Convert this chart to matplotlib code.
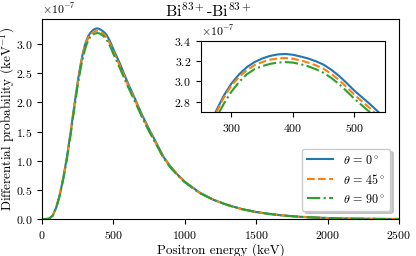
#!/usr/bin/env python

# Positron energy spectrum for Bi83+ - Bi83+ at three emission angles

import matplotlib
matplotlib.use('Agg')
import matplotlib.pyplot as plt

plt.rcParams['font.family'] = 'serif'
plt.rcParams['font.serif'] = ['cmr10', 'DejaVu Serif']
plt.rcParams['mathtext.fontset'] = 'cm'
plt.rcParams['axes.formatter.use_mathtext'] = True
plt.rcParams['axes.unicode_minus'] = True

# Data (probability in units of 1e-7 keV^-1)
energy = [0, 25, 50, 75, 100, 125, 150, 175, 200, 225, 250, 262.5, 275,
          287.5, 300, 312.5, 325, 337.5, 350, 362.5, 375, 387.5, 400, 412.5,
          425, 437.5, 450, 462.5, 475, 487.5, 500, 512.5, 525, 537.5, 550,
          600, 650, 700, 750, 800, 850, 900, 950, 1000, 1100, 1200, 1300,
          1400, 1500, 1600, 1700, 1800, 1900, 2000, 2100, 2200, 2300, 2400,
          2500]
prob_0 = [0.0, 0.0, 0.005, 0.06, 0.20, 0.42, 0.72, 1.07, 1.48, 1.93, 2.35,
          2.54, 2.71, 2.86, 2.98, 3.07, 3.14, 3.19, 3.225, 3.25, 3.265,
          3.27, 3.262, 3.245, 3.225, 3.198, 3.165, 3.115, 3.055, 2.985,
          2.91, 2.845, 2.78, 2.71, 2.64, 2.34, 2.07, 1.79, 1.54, 1.31, 1.07,
          0.90, 0.76, 0.64, 0.46, 0.33, 0.24, 0.17, 0.12, 0.085, 0.058,
          0.039, 0.026, 0.017, 0.010, 0.006, 0.003, 0.001, 0.0]
prob_45 = [0.0, 0.0, 0.005, 0.06, 0.20, 0.42, 0.715, 1.06, 1.47, 1.92, 2.34,
           2.52, 2.69, 2.84, 2.96, 3.045, 3.11, 3.16, 3.19, 3.213, 3.225,
           3.23, 3.223, 3.207, 3.185, 3.158, 3.125, 3.075, 3.015, 2.945,
           2.87, 2.805, 2.74, 2.67, 2.60, 2.31, 2.05, 1.77, 1.52, 1.29, 1.06,
           0.89, 0.755, 0.635, 0.455, 0.33, 0.24, 0.17, 0.12, 0.085, 0.058,
           0.039, 0.026, 0.017, 0.010, 0.006, 0.003, 0.001, 0.0]
prob_90 = [0.0, 0.0, 0.005, 0.058, 0.195, 0.41, 0.70, 1.04, 1.44, 1.88, 2.29,
           2.47, 2.64, 2.78, 2.90, 2.995, 3.07, 3.12, 3.15, 3.172, 3.185,
           3.19, 3.185, 3.17, 3.148, 3.12, 3.085, 3.035, 2.975, 2.905,
           2.83, 2.765, 2.70, 2.63, 2.56, 2.28, 2.02, 1.75, 1.50, 1.28, 1.05,
           0.88, 0.75, 0.63, 0.45, 0.33, 0.24, 0.17, 0.12, 0.085, 0.058,
           0.039, 0.026, 0.017, 0.010, 0.006, 0.003, 0.001, 0.0]

series = [(prob_0, r'$\theta\,=\,0^\circ$', '-'),
          (prob_45, r'$\theta\,=\,45^\circ$', '--'),
          (prob_90, r'$\theta\,=\,90^\circ$', '-.')]

fig = plt.figure(figsize=(4.16, 2.56), dpi=100)

ax = fig.add_axes([0.101, 0.1445, 0.858, 0.781])
for values, label, style in series:
    ax.plot(energy, [v*1e-7 for v in values], style, lw=1.5, label=label)
ax.set_xlim(0, 2500)
ax.set_ylim(0, 3.43e-7)
ax.set_xticks([0, 500, 1000, 1500, 2000, 2500])
ax.set_yticks([0, 0.5e-7, 1.0e-7, 1.5e-7, 2.0e-7, 2.5e-7, 3.0e-7])
ax.tick_params(labelsize=8.5)
ax.yaxis.get_offset_text().set_fontsize(8.5)
ax.set_xlabel('Positron energy (keV)', fontsize=9.5, labelpad=2)
ax.set_ylabel(r'Differential probability (keV$^{-1}$)', fontsize=9.5)
ax.yaxis.set_label_coords(-0.07, 0.5)
ax.legend(loc='lower right', fontsize=8.7, handlelength=2.2,
          borderaxespad=0.7, shadow={'color': '0.6', 'alpha': 0.5})

fig.text(0.5, 0.935, r'Bi$^{83+}$-Bi$^{83+}$', ha='center', va='baseline',
         fontsize=11.5)

# Zoomed inset around the peak
axi = fig.add_axes([0.4825, 0.5625, 0.443, 0.2785])
for values, label, style in series:
    axi.plot(energy, [v*1e-7 for v in values], style, lw=1.5)
axi.set_xlim(250, 550)
axi.set_ylim(2.7e-7, 3.4e-7)
axi.set_xticks([300, 400, 500])
axi.set_yticks([2.8e-7, 3.0e-7, 3.2e-7, 3.4e-7])
axi.tick_params(labelsize=8.5)
axi.yaxis.get_offset_text().set_fontsize(8.5)

fig.savefig('out.png', dpi=100)
